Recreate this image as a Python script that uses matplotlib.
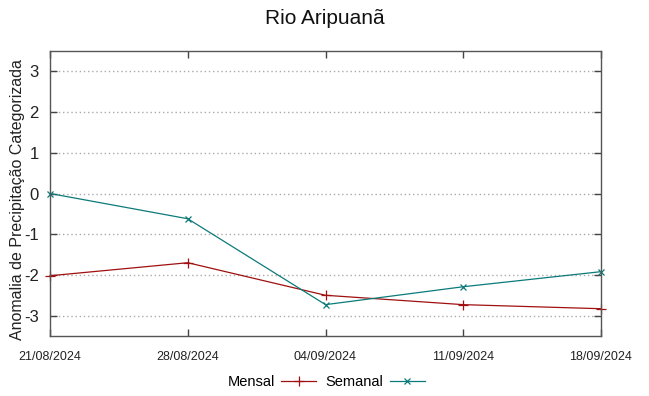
import matplotlib
matplotlib.use("Agg")
import matplotlib.pyplot as plt
from matplotlib import font_manager

dates = ["21/08/2024", "28/08/2024", "04/09/2024", "11/09/2024", "18/09/2024"]
mensal = [-2.02, -1.70, -2.50, -2.73, -2.83]
semanal = [0.0, -0.62, -2.73, -2.29, -1.92]

names = {f.name for f in font_manager.fontManager.ttflist}
narrow = "Liberation Sans Narrow" if "Liberation Sans Narrow" in names else "Liberation Sans"
plt.rcParams['font.family'] = ['Liberation Sans', 'DejaVu Sans']

fig = plt.figure(figsize=(6.49, 3.96), dpi=100)
ax = fig.add_axes([50/649, 60/396, 551/649, 285/396])

x = list(range(len(dates)))
red = '#a01010'
teal = '#0c7a7a'
ax.plot(x, mensal, color=red, lw=0.9, marker='+', ms=6.5, mew=0.9, label='Mensal', clip_on=False)
ax.plot(x, semanal, color=teal, lw=0.9, marker='x', ms=5, mew=0.9, label='Semanal', clip_on=False)

ax.set_xlim(0, 4)
ax.set_ylim(-3.5, 3.5)
ax.set_yticks([-3, -2, -1, 0, 1, 2, 3])
ax.set_yticklabels(['-3', '-2', '-1', '0', '1', '2', '3'], fontsize=12, color='#222222')
ax.set_xticks(x)
ax.set_xticklabels(dates, fontsize=9, family=narrow, color='#222222')
ax.tick_params(axis='both', direction='in', length=5, width=1, color='#444444',
               top=True, right=True, pad=8)
ax.tick_params(axis='x', pad=11)
ax.grid(axis='y', linestyle=(0, (1, 2)), color='#aaaaaa', lw=1)
for s in ax.spines.values():
    s.set_color('#555555')
    s.set_linewidth(1)

fig.text(18/649, 1 - 200/396, 'Anomalia de Precipitação Categorizada', rotation=90,
         ha='center', va='center', fontsize=11.5, color='#222222')
fig.text(0.5, 1 - 18/396, 'Rio Aripuanã', ha='center', va='center', fontsize=15, color='#111111')

leg = fig.legend(loc='center', bbox_to_anchor=(326/649, 1 - 382/396), ncol=2, frameon=False,
                 markerfirst=False, fontsize=10.5, handlelength=2.4, columnspacing=0.6,
                 handletextpad=0.45)
fig.savefig('out.png', dpi=100)
